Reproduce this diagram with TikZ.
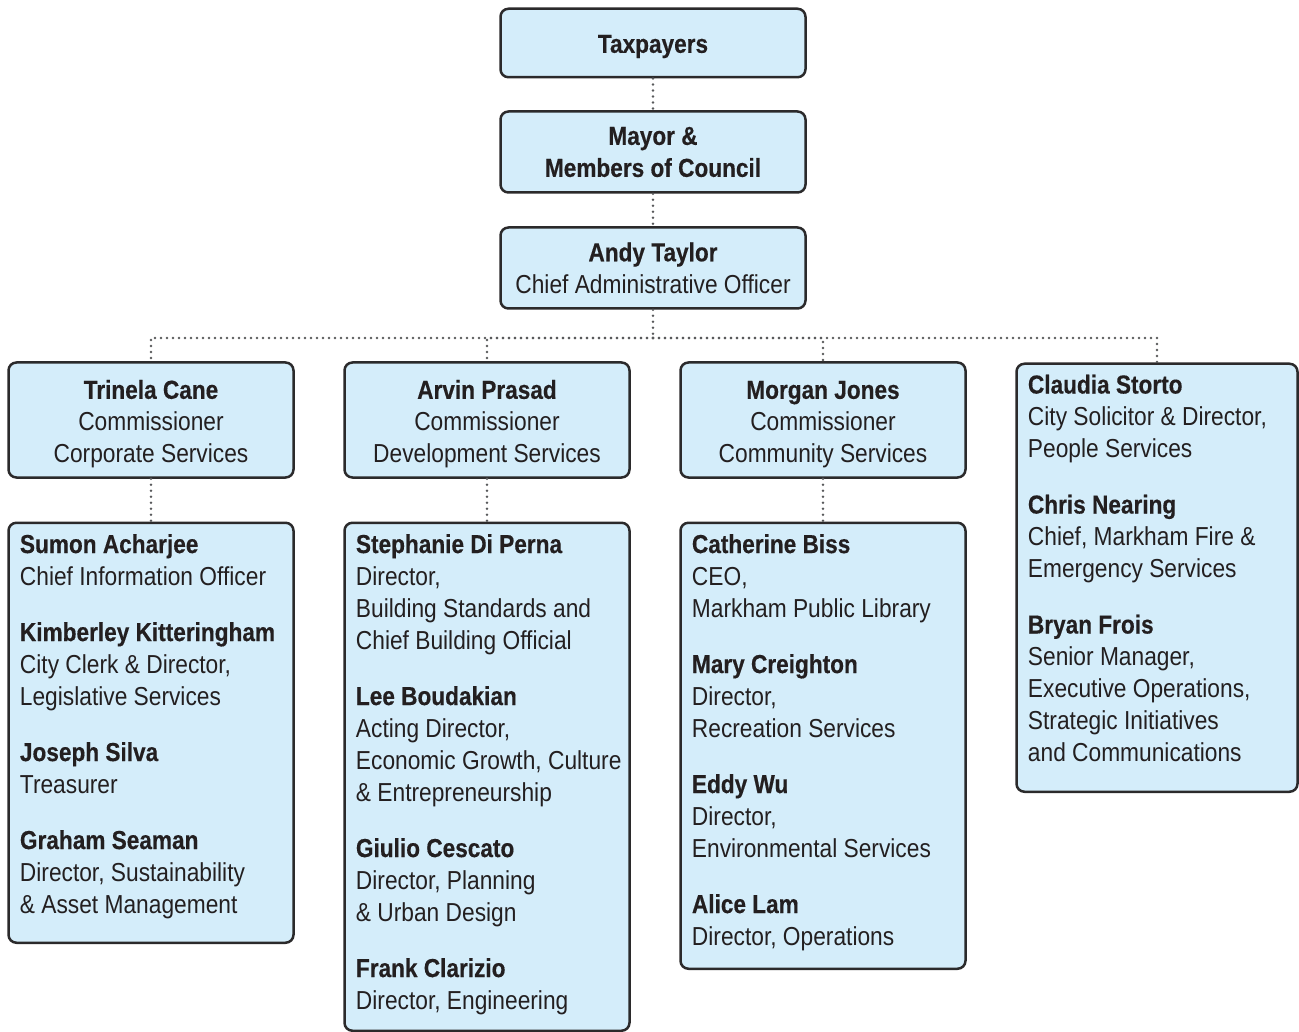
\documentclass[tikz,border=0pt]{standalone}
\usepackage{fontspec}
\setmainfont{Liberation Sans}[UprightFeatures={FakeStretch=0.875}, BoldFeatures={FakeStretch=0.87, FakeBold=0.4}]
\usetikzlibrary{positioning, calc}

\definecolor{boxfill}{HTML}{D4EDFA}
\definecolor{boxline}{HTML}{2B2A2B}
\definecolor{inkdark}{HTML}{231F20}
\definecolor{linkgray}{HTML}{58595B}

\newcommand{\topstrut}[1]{\rule{0pt}{#1pt}}

\tikzset{
  orgbox/.style={draw=boxline, fill=boxfill, line width=2.5pt, rounded corners=8pt,
    inner sep=0pt, align=center, text=inkdark, font=\fontsize{26}{32}\selectfont},
  staff/.style={anchor=north west, inner sep=0pt, align=left, text=inkdark,
    font=\fontsize{26}{32}\selectfont},
  link/.style={draw=linkgray, line width=2.6pt, dash pattern=on 0pt off 6pt, line cap=round},
}

\begin{document}
\begin{tikzpicture}[x=1pt, y=-1pt]
  \useasboundingbox (0,0) rectangle (1299,1032);

  % top of the chart
  \node[orgbox, minimum width=305, minimum height=68.5] (tax) at (653,43) {\topstrut{25}\textbf{Taxpayers}};
  \node[orgbox, minimum width=305, minimum height=81] (council) at (653,152) {\textbf{Mayor \&}\\\textbf{Members of Council}};
  \node[orgbox, minimum width=305, minimum height=81] (cao) at (653,268) {\textbf{Andy Taylor}\\Chief Administrative Officer};
  \coordinate (bus) at (653,338);

  % commissioners
  \node[orgbox, minimum width=285, minimum height=115] (corp) at (151,420) {\topstrut{27}\textbf{Trinela Cane}\\Commissioner\\Corporate Services};
  \node[orgbox, minimum width=285, minimum height=115] (dev) at (487,420) {\topstrut{27}\textbf{Arvin Prasad}\\Commissioner\\Development Services};
  \node[orgbox, minimum width=285, minimum height=115] (comm) at (823,420) {\topstrut{27}\textbf{Morgan Jones}\\Commissioner\\Community Services};
  \node[orgbox, anchor=north, minimum width=281, minimum height=428] (legal) at (1157,362.5) {};

  % directors
  \node[orgbox, anchor=north, minimum width=285, minimum height=420] (corpstaff) at (151,521.5) {};
  \node[orgbox, anchor=north, minimum width=285, minimum height=508] (devstaff) at (487,521.5) {};
  \node[orgbox, anchor=north, minimum width=285, minimum height=446] (commstaff) at (823,521.5) {};

  \node[staff] (legaltxt) at ($(legal.north west)+(12.5,12)$) {%
    \textbf{Claudia Storto}\\City Solicitor \& Director,\\People Services\\[24pt]
    \textbf{Chris Nearing}\\Chief, Markham Fire \&\\Emergency Services\\[24pt]
    \textbf{Bryan Frois}\\Senior Manager,\\Executive Operations,\\Strategic Initiatives\\and Communications};
  \node[staff] (corptxt) at ($(corpstaff.north west)+(12.5,12.5)$) {%
    \textbf{Sumon Acharjee}\\Chief Information Officer\\[24pt]
    \textbf{Kimberley Kitteringham}\\City Clerk \& Director,\\Legislative Services\\[24pt]
    \textbf{Joseph Silva}\\Treasurer\\[24pt]
    \textbf{Graham Seaman}\\Director, Sustainability\\\& Asset Management};
  \node[staff] (devtxt) at ($(devstaff.north west)+(12.5,12.5)$) {%
    \textbf{Stephanie Di Perna}\\Director,\\Building Standards and\\Chief Building Official\\[24pt]
    \textbf{Lee Boudakian}\\Acting Director,\\Economic Growth, Culture\\\& Entrepreneurship\\[24pt]
    \textbf{Giulio Cescato}\\Director, Planning\\\& Urban Design\\[24pt]
    \textbf{Frank Clarizio}\\Director, Engineering};
  \node[staff] (commtxt) at ($(commstaff.north west)+(12.5,12.5)$) {%
    \textbf{Catherine Biss}\\CEO,\\Markham Public Library\\[24pt]
    \textbf{Mary Creighton}\\Director,\\Recreation Services\\[24pt]
    \textbf{Eddy Wu}\\Director,\\Environmental Services\\[24pt]
    \textbf{Alice Lam}\\Director, Operations};

  % dotted reporting lines
  \draw[link] (tax.south) -- (council.north);
  \draw[link] (council.south) -- (cao.north);
  \draw[link] (cao.south) -- (bus);
  \draw[link] (bus) -| (corp.north);
  \draw[link] (bus) -| (dev.north);
  \draw[link] (bus) -| (comm.north);
  \draw[link] (bus) -| (legal.north);
  \draw[link] (corp.south) -- (corpstaff.north);
  \draw[link] (dev.south) -- (devstaff.north);
  \draw[link] (comm.south) -- (commstaff.north);
\end{tikzpicture}
\end{document}
